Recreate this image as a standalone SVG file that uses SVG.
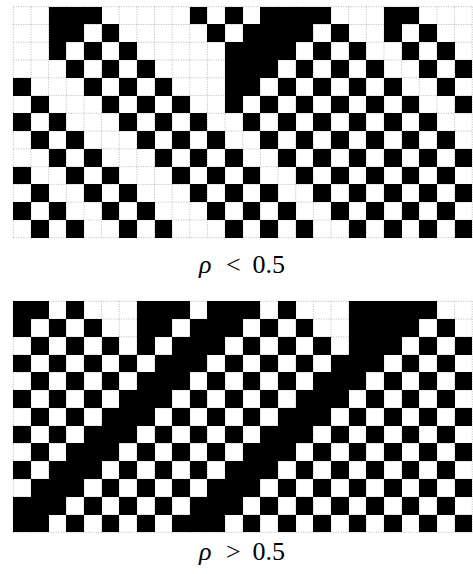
<svg xmlns="http://www.w3.org/2000/svg" xmlns:xlink="http://www.w3.org/1999/xlink" width="473" height="574" viewBox="0 0 473 574">
<style>
.grid{fill:none;stroke:#9a9a9a;stroke-width:0.7;stroke-dasharray:1 1.5}
.cells rect{fill:#000;height:1px}
.cells{shape-rendering:crispEdges}
.lbl{font-family:"Liberation Serif","DejaVu Serif",serif;font-size:26px;fill:#000}
</style>
<rect width="473" height="574" fill="#fff"/>
<g id="grid-top">
<path class="grid" d="M13.3 6.7V237.7M30.95 6.7V237.7M48.6 6.7V237.7M66.25 6.7V237.7M83.9 6.7V237.7M101.55 6.7V237.7M119.2 6.7V237.7M136.85 6.7V237.7M154.5 6.7V237.7M172.15 6.7V237.7M189.8 6.7V237.7M207.45 6.7V237.7M225.1 6.7V237.7M242.75 6.7V237.7M260.4 6.7V237.7M278.05 6.7V237.7M295.7 6.7V237.7M313.35 6.7V237.7M331 6.7V237.7M348.65 6.7V237.7M366.3 6.7V237.7M383.95 6.7V237.7M401.6 6.7V237.7M419.25 6.7V237.7M436.9 6.7V237.7M454.55 6.7V237.7M472.2 6.7V237.7M13.3 6.7H472.2M13.3 24.47H472.2M13.3 42.24H472.2M13.3 60.01H472.2M13.3 77.78H472.2M13.3 95.55H472.2M13.3 113.32H472.2M13.3 131.09H472.2M13.3 148.86H472.2M13.3 166.63H472.2M13.3 184.4H472.2M13.3 202.17H472.2M13.3 219.94H472.2M13.3 237.71H472.2"/>
<g class="cells" transform="translate(13.3 6.7) scale(17.65 17.77)">
<rect x="2" y="0" width="3"/><rect x="10" y="0" width="1"/><rect x="12" y="0" width="1"/><rect x="14" y="0" width="4"/><rect x="21" y="0" width="2"/>
<rect x="2" y="1" width="2"/><rect x="5" y="1" width="1"/><rect x="11" y="1" width="1"/><rect x="13" y="1" width="4"/><rect x="18" y="1" width="1"/><rect x="21" y="1" width="1"/><rect x="23" y="1" width="1"/>
<rect x="2" y="2" width="1"/><rect x="4" y="2" width="1"/><rect x="6" y="2" width="1"/><rect x="12" y="2" width="4"/><rect x="17" y="2" width="1"/><rect x="19" y="2" width="1"/><rect x="22" y="2" width="1"/><rect x="24" y="2" width="1"/>
<rect x="3" y="3" width="1"/><rect x="5" y="3" width="1"/><rect x="7" y="3" width="1"/><rect x="12" y="3" width="3"/><rect x="16" y="3" width="1"/><rect x="18" y="3" width="1"/><rect x="20" y="3" width="1"/><rect x="23" y="3" width="1"/><rect x="25" y="3" width="1"/>
<rect x="0" y="4" width="1"/><rect x="4" y="4" width="1"/><rect x="6" y="4" width="1"/><rect x="8" y="4" width="1"/><rect x="12" y="4" width="2"/><rect x="15" y="4" width="1"/><rect x="17" y="4" width="1"/><rect x="19" y="4" width="1"/><rect x="21" y="4" width="1"/><rect x="24" y="4" width="1"/>
<rect x="1" y="5" width="1"/><rect x="5" y="5" width="1"/><rect x="7" y="5" width="1"/><rect x="9" y="5" width="1"/><rect x="12" y="5" width="1"/><rect x="14" y="5" width="1"/><rect x="16" y="5" width="1"/><rect x="18" y="5" width="1"/><rect x="20" y="5" width="1"/><rect x="22" y="5" width="1"/><rect x="25" y="5" width="1"/>
<rect x="0" y="6" width="1"/><rect x="2" y="6" width="1"/><rect x="6" y="6" width="1"/><rect x="8" y="6" width="1"/><rect x="10" y="6" width="1"/><rect x="13" y="6" width="1"/><rect x="15" y="6" width="1"/><rect x="17" y="6" width="1"/><rect x="19" y="6" width="1"/><rect x="21" y="6" width="1"/><rect x="23" y="6" width="1"/>
<rect x="1" y="7" width="1"/><rect x="3" y="7" width="1"/><rect x="7" y="7" width="1"/><rect x="9" y="7" width="1"/><rect x="11" y="7" width="1"/><rect x="14" y="7" width="1"/><rect x="16" y="7" width="1"/><rect x="18" y="7" width="1"/><rect x="20" y="7" width="1"/><rect x="22" y="7" width="1"/><rect x="24" y="7" width="1"/>
<rect x="2" y="8" width="1"/><rect x="4" y="8" width="1"/><rect x="8" y="8" width="1"/><rect x="10" y="8" width="1"/><rect x="12" y="8" width="1"/><rect x="15" y="8" width="1"/><rect x="17" y="8" width="1"/><rect x="19" y="8" width="1"/><rect x="21" y="8" width="1"/><rect x="23" y="8" width="1"/><rect x="25" y="8" width="1"/>
<rect x="0" y="9" width="1"/><rect x="3" y="9" width="1"/><rect x="5" y="9" width="1"/><rect x="9" y="9" width="1"/><rect x="11" y="9" width="1"/><rect x="13" y="9" width="1"/><rect x="16" y="9" width="1"/><rect x="18" y="9" width="1"/><rect x="20" y="9" width="1"/><rect x="22" y="9" width="1"/><rect x="24" y="9" width="1"/>
<rect x="1" y="10" width="1"/><rect x="4" y="10" width="1"/><rect x="6" y="10" width="1"/><rect x="10" y="10" width="1"/><rect x="12" y="10" width="1"/><rect x="14" y="10" width="1"/><rect x="17" y="10" width="1"/><rect x="19" y="10" width="1"/><rect x="21" y="10" width="1"/><rect x="23" y="10" width="1"/><rect x="25" y="10" width="1"/>
<rect x="0" y="11" width="1"/><rect x="2" y="11" width="1"/><rect x="5" y="11" width="1"/><rect x="7" y="11" width="1"/><rect x="11" y="11" width="1"/><rect x="13" y="11" width="1"/><rect x="15" y="11" width="1"/><rect x="18" y="11" width="1"/><rect x="20" y="11" width="1"/><rect x="22" y="11" width="1"/><rect x="24" y="11" width="1"/>
<rect x="1" y="12" width="1"/><rect x="3" y="12" width="1"/><rect x="6" y="12" width="1"/><rect x="8" y="12" width="1"/><rect x="12" y="12" width="1"/><rect x="14" y="12" width="1"/><rect x="16" y="12" width="1"/><rect x="19" y="12" width="1"/><rect x="21" y="12" width="1"/><rect x="23" y="12" width="1"/><rect x="25" y="12" width="1"/>
</g>
</g>
<text id="label-top" class="lbl" y="273"><tspan x="199" font-style="italic">ρ</tspan><tspan x="226">&lt;</tspan><tspan x="252.5">0.5</tspan></text>
<g id="grid-bottom">
<path class="grid" d="M13.3 301.3V532.3M30.95 301.3V532.3M48.6 301.3V532.3M66.25 301.3V532.3M83.9 301.3V532.3M101.55 301.3V532.3M119.2 301.3V532.3M136.85 301.3V532.3M154.5 301.3V532.3M172.15 301.3V532.3M189.8 301.3V532.3M207.45 301.3V532.3M225.1 301.3V532.3M242.75 301.3V532.3M260.4 301.3V532.3M278.05 301.3V532.3M295.7 301.3V532.3M313.35 301.3V532.3M331 301.3V532.3M348.65 301.3V532.3M366.3 301.3V532.3M383.95 301.3V532.3M401.6 301.3V532.3M419.25 301.3V532.3M436.9 301.3V532.3M454.55 301.3V532.3M472.2 301.3V532.3M13.3 301.3H472.2M13.3 319.07H472.2M13.3 336.84H472.2M13.3 354.61H472.2M13.3 372.38H472.2M13.3 390.15H472.2M13.3 407.92H472.2M13.3 425.69H472.2M13.3 443.46H472.2M13.3 461.23H472.2M13.3 479H472.2M13.3 496.77H472.2M13.3 514.54H472.2M13.3 532.31H472.2"/>
<g class="cells" transform="translate(13.3 301.3) scale(17.65 17.77)">
<rect x="0" y="0" width="2"/><rect x="3" y="0" width="1"/><rect x="7" y="0" width="3"/><rect x="11" y="0" width="3"/><rect x="15" y="0" width="1"/><rect x="19" y="0" width="5"/>
<rect x="0" y="1" width="1"/><rect x="2" y="1" width="1"/><rect x="4" y="1" width="1"/><rect x="7" y="1" width="2"/><rect x="10" y="1" width="3"/><rect x="14" y="1" width="1"/><rect x="16" y="1" width="1"/><rect x="19" y="1" width="4"/><rect x="24" y="1" width="1"/>
<rect x="1" y="2" width="1"/><rect x="3" y="2" width="1"/><rect x="5" y="2" width="1"/><rect x="7" y="2" width="1"/><rect x="9" y="2" width="3"/><rect x="13" y="2" width="1"/><rect x="15" y="2" width="1"/><rect x="17" y="2" width="1"/><rect x="19" y="2" width="3"/><rect x="23" y="2" width="1"/><rect x="25" y="2" width="1"/>
<rect x="0" y="3" width="1"/><rect x="2" y="3" width="1"/><rect x="4" y="3" width="1"/><rect x="6" y="3" width="1"/><rect x="8" y="3" width="3"/><rect x="12" y="3" width="1"/><rect x="14" y="3" width="1"/><rect x="16" y="3" width="1"/><rect x="18" y="3" width="3"/><rect x="22" y="3" width="1"/><rect x="24" y="3" width="1"/>
<rect x="1" y="4" width="1"/><rect x="3" y="4" width="1"/><rect x="5" y="4" width="1"/><rect x="7" y="4" width="3"/><rect x="11" y="4" width="1"/><rect x="13" y="4" width="1"/><rect x="15" y="4" width="1"/><rect x="17" y="4" width="3"/><rect x="21" y="4" width="1"/><rect x="23" y="4" width="1"/><rect x="25" y="4" width="1"/>
<rect x="0" y="5" width="1"/><rect x="2" y="5" width="1"/><rect x="4" y="5" width="1"/><rect x="6" y="5" width="3"/><rect x="10" y="5" width="1"/><rect x="12" y="5" width="1"/><rect x="14" y="5" width="1"/><rect x="16" y="5" width="3"/><rect x="20" y="5" width="1"/><rect x="22" y="5" width="1"/><rect x="24" y="5" width="1"/>
<rect x="1" y="6" width="1"/><rect x="3" y="6" width="1"/><rect x="5" y="6" width="3"/><rect x="9" y="6" width="1"/><rect x="11" y="6" width="1"/><rect x="13" y="6" width="1"/><rect x="15" y="6" width="3"/><rect x="19" y="6" width="1"/><rect x="21" y="6" width="1"/><rect x="23" y="6" width="1"/><rect x="25" y="6" width="1"/>
<rect x="0" y="7" width="1"/><rect x="2" y="7" width="1"/><rect x="4" y="7" width="3"/><rect x="8" y="7" width="1"/><rect x="10" y="7" width="1"/><rect x="12" y="7" width="1"/><rect x="14" y="7" width="3"/><rect x="18" y="7" width="1"/><rect x="20" y="7" width="1"/><rect x="22" y="7" width="1"/><rect x="24" y="7" width="1"/>
<rect x="1" y="8" width="1"/><rect x="3" y="8" width="3"/><rect x="7" y="8" width="1"/><rect x="9" y="8" width="1"/><rect x="11" y="8" width="1"/><rect x="13" y="8" width="3"/><rect x="17" y="8" width="1"/><rect x="19" y="8" width="1"/><rect x="21" y="8" width="1"/><rect x="23" y="8" width="1"/><rect x="25" y="8" width="1"/>
<rect x="0" y="9" width="1"/><rect x="2" y="9" width="3"/><rect x="6" y="9" width="1"/><rect x="8" y="9" width="1"/><rect x="10" y="9" width="1"/><rect x="12" y="9" width="3"/><rect x="16" y="9" width="1"/><rect x="18" y="9" width="1"/><rect x="20" y="9" width="1"/><rect x="22" y="9" width="1"/><rect x="24" y="9" width="1"/>
<rect x="1" y="10" width="3"/><rect x="5" y="10" width="1"/><rect x="7" y="10" width="1"/><rect x="9" y="10" width="1"/><rect x="11" y="10" width="3"/><rect x="15" y="10" width="1"/><rect x="17" y="10" width="1"/><rect x="19" y="10" width="1"/><rect x="21" y="10" width="1"/><rect x="23" y="10" width="1"/><rect x="25" y="10" width="1"/>
<rect x="0" y="11" width="3"/><rect x="4" y="11" width="1"/><rect x="6" y="11" width="1"/><rect x="8" y="11" width="1"/><rect x="10" y="11" width="3"/><rect x="14" y="11" width="1"/><rect x="16" y="11" width="1"/><rect x="18" y="11" width="1"/><rect x="20" y="11" width="1"/><rect x="22" y="11" width="1"/><rect x="24" y="11" width="1"/>
<rect x="0" y="12" width="2"/><rect x="3" y="12" width="1"/><rect x="5" y="12" width="1"/><rect x="7" y="12" width="1"/><rect x="9" y="12" width="3"/><rect x="13" y="12" width="1"/><rect x="15" y="12" width="1"/><rect x="17" y="12" width="1"/><rect x="19" y="12" width="1"/><rect x="21" y="12" width="1"/><rect x="23" y="12" width="1"/><rect x="25" y="12" width="1"/>
</g>
</g>
<text id="label-bottom" class="lbl" y="560"><tspan x="199" font-style="italic">ρ</tspan><tspan x="226">&gt;</tspan><tspan x="252.5">0.5</tspan></text>
</svg>
